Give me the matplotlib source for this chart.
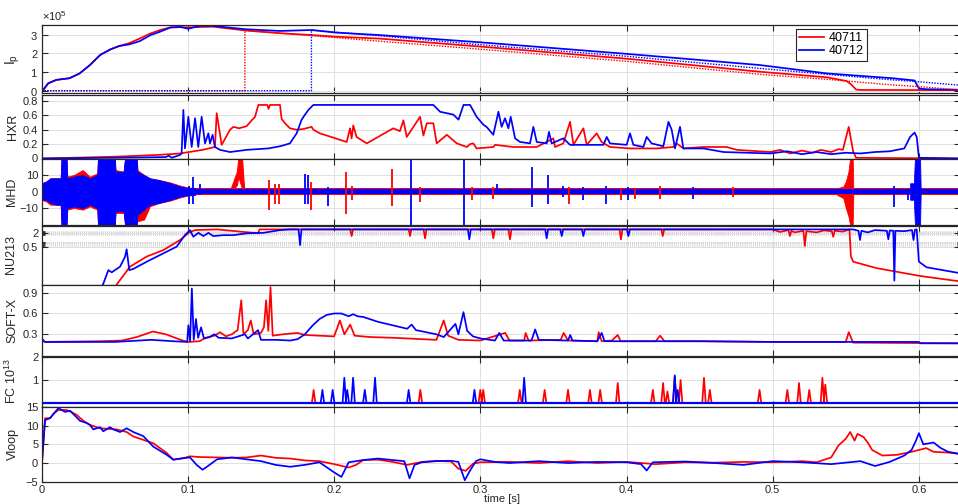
import numpy as np
import matplotlib
matplotlib.use('Agg')
import matplotlib.pyplot as plt
from matplotlib.ticker import FixedLocator, NullFormatter, ScalarFormatter, FixedFormatter
from matplotlib.lines import Line2D

plt.rcParams['font.family'] = ['Liberation Sans', 'DejaVu Sans']
plt.rcParams['mathtext.fontset'] = 'custom'
plt.rcParams['mathtext.rm'] = 'Liberation Sans'
plt.rcParams['mathtext.it'] = 'Liberation Sans'

W, H = 958, 504
RED = (1, 0, 0)
BLUE = (0, 0, 1)
GRID = (0.88, 0.88, 0.88)
DARK = (0.15, 0.15, 0.15)
SHOTS = ['40711', '40712']

# ---------------- data ----------------
# Plasma current (x1e5 A)
ip_t_red = [0, 0.001, 0.0045, 0.010, 0.019, 0.026, 0.033, 0.040, 0.047, 0.053, 0.060, 0.067, 0.0745,
            0.081, 0.088, 0.095, 0.100, 0.108, 0.117, 0.140, 0.163, 0.1845, 0.2015, 0.231, 0.30, 0.40,
            0.491, 0.537, 0.5505, 0.5535, 0.557, 0.56, 0.627]
ip_red = [0, 0.04, 0.40, 0.58, 0.67, 0.93, 1.38, 1.92, 2.22, 2.40, 2.56, 2.80, 3.08,
          3.26, 3.40, 3.42, 3.40, 3.42, 3.44, 3.23, 3.09, 2.99, 2.90, 2.80, 2.37, 1.72,
          1.02, 0.72, 0.52, 0.35, 0.06, 0.04, 0.03]
ip_t_blue = [0, 0.001, 0.0045, 0.010, 0.019, 0.026, 0.033, 0.040, 0.047, 0.053, 0.060, 0.067, 0.0745,
             0.081, 0.088, 0.095, 0.100, 0.108, 0.117, 0.140, 0.163, 0.1845, 0.2015, 0.231, 0.30, 0.40,
             0.491, 0.537, 0.582, 0.597, 0.600, 0.605, 0.627]
ip_blue = [0, 0.04, 0.40, 0.58, 0.67, 0.93, 1.38, 1.92, 2.22, 2.40, 2.49, 2.66, 2.99,
           3.17, 3.40, 3.42, 3.33, 3.48, 3.48, 3.30, 3.21, 3.26, 3.12, 2.99, 2.60, 1.98,
           1.38, 0.93, 0.67, 0.55, 0.12, 0.08, 0.05]
ipfit_t_red = [0, 0.139, 0.139, 0.2, 0.231, 0.3, 0.4, 0.491, 0.537, 0.582, 0.6, 0.627]
ipfit_red = [0, 0, 3.24, 2.86, 2.66, 2.23, 1.58, 0.88, 0.61, 0.31, 0.22, 0.05]
ipfit_t_blue = [0, 0.1845, 0.1845, 0.231, 0.3, 0.4, 0.491, 0.537, 0.582, 0.6, 0.627]
ipfit_blue = [0, 0, 3.26, 2.95, 2.47, 1.85, 1.20, 0.88, 0.58, 0.48, 0.30]

# Hard X-ray
hxr_t_red = [0, 0.02, 0.05, 0.08, 0.0946, 0.110, 0.1185, 0.1197, 0.1231, 0.1288, 0.1311, 0.1350, 0.1402,
             0.1436, 0.1459, 0.1482, 0.1543, 0.1552, 0.1561, 0.1630, 0.1641, 0.1664, 0.1698, 0.1744,
             0.1790, 0.1846, 0.1858, 0.1903, 0.2086, 0.2109, 0.2120, 0.2131, 0.2154, 0.2223, 0.2405,
             0.2450, 0.2474, 0.2497, 0.2588, 0.2611, 0.2634, 0.2679, 0.2702, 0.2771, 0.2839, 0.2908,
             0.2930, 0.2952, 0.2975, 0.3089, 0.3101, 0.3226, 0.3386, 0.3500, 0.3511, 0.3568, 0.3614,
             0.3637, 0.3705, 0.3728, 0.3796, 0.3830, 0.3887, 0.4024, 0.4207, 0.4321, 0.4343, 0.4389,
             0.4526, 0.4686, 0.4755, 0.4983, 0.505, 0.512, 0.52, 0.527, 0.533, 0.54, 0.545, 0.548,
             0.552, 0.555, 0.557, 0.627]
hxr_red = [0, 0.01, 0.025, 0.05, 0.07, 0.12, 0.16, 0.63, 0.19, 0.40, 0.44, 0.42, 0.45,
           0.53, 0.58, 0.745, 0.745, 0.69, 0.745, 0.745, 0.55, 0.49, 0.42, 0.40,
           0.41, 0.44, 0.40, 0.35, 0.23, 0.42, 0.28, 0.46, 0.30, 0.21, 0.42,
           0.38, 0.53, 0.30, 0.58, 0.32, 0.49, 0.49, 0.21, 0.33, 0.21, 0.16,
           0.20, 0.21, 0.14, 0.16, 0.19, 0.16, 0.16, 0.28, 0.16, 0.21, 0.51,
           0.19, 0.42, 0.19, 0.35, 0.23, 0.16, 0.14, 0.14, 0.16, 0.21, 0.14,
           0.16, 0.16, 0.12, 0.09, 0.12, 0.07, 0.11, 0.08, 0.12, 0.09, 0.13, 0.12,
           0.44, 0.10, 0.01, 0.0]
hxr_t_blue = [0, 0.05, 0.085, 0.087, 0.089, 0.0946, 0.0957, 0.0969, 0.0980, 0.1003, 0.1026, 0.1049,
              0.1071, 0.1094, 0.1117, 0.1140, 0.1151, 0.1169, 0.1185, 0.1220, 0.1288, 0.1402, 0.1550,
              0.1630, 0.1698, 0.1744, 0.1778, 0.1801, 0.1824, 0.1858, 0.2679, 0.2725, 0.2816, 0.2851,
              0.2885, 0.2930, 0.2975, 0.3021, 0.3043, 0.3089, 0.3124, 0.3146, 0.3169, 0.3192, 0.3208,
              0.3238, 0.3272, 0.3340, 0.3363, 0.3386, 0.3454, 0.3470, 0.3488, 0.3568, 0.3614, 0.3842,
              0.3865, 0.3887, 0.4001, 0.4024, 0.4047, 0.4115, 0.4138, 0.4172, 0.4252, 0.4287, 0.4309,
              0.4332, 0.4366, 0.4389, 0.4526, 0.4664, 0.4983, 0.51, 0.52, 0.53, 0.54, 0.55, 0.56,
              0.57, 0.58, 0.59, 0.594, 0.597, 0.5985, 0.600, 0.627]
hxr_blue = [0, 0.01, 0.02, 0.04, 0.01, 0.05, 0.07, 0.675, 0.14, 0.58, 0.16, 0.56,
            0.16, 0.58, 0.21, 0.35, 0.21, 0.33, 0.16, 0.12, 0.09, 0.12, 0.14,
            0.17, 0.21, 0.35, 0.54, 0.61, 0.675, 0.745, 0.745, 0.65, 0.61, 0.54,
            0.745, 0.745, 0.58, 0.47, 0.44, 0.33, 0.65, 0.44, 0.56, 0.42, 0.58,
            0.28, 0.23, 0.21, 0.44, 0.23, 0.21, 0.37, 0.21, 0.28, 0.19, 0.19,
            0.30, 0.21, 0.19, 0.35, 0.19, 0.16, 0.30, 0.21, 0.17, 0.51, 0.40,
            0.14, 0.44, 0.14, 0.14, 0.09, 0.07, 0.10, 0.06, 0.09, 0.06, 0.08, 0.07,
            0.09, 0.10, 0.14, 0.30, 0.36, 0.30, 0.01, 0.0]

# MHD: envelope of the early burst, baseline band, and isolated spikes
mhd_burst_t = [0, 0.003, 0.006, 0.010, 0.013, 0.0135, 0.017, 0.0175, 0.022, 0.028, 0.033, 0.038, 0.0385,
               0.050, 0.0505, 0.056, 0.057, 0.065, 0.0655, 0.070, 0.074, 0.080, 0.088, 0.095, 0.100, 0.105]
mhd_burst_red_up = [5, 6, 8, 8, 8, 20, 20, 9, 10, 13, 9, 11, 20, 20, 13, 12, 20, 20, 13, 10, 8, 7, 5.5, 3.5, 2.5, 2]
mhd_burst_red_lo = [-5, -6, -8, -8, -8, -20, -20, -11, -10, -11, -9, -11, -20, -20, -13, -13, -20, -20, -18, -17, -9, -7, -5.5, -3.5, -2.5, -2]
mhd_burst_blue_up = [5, 6, 8, 8, 8, 20, 20, 8, 9, 10, 8, 10, 20, 20, 12, 12, 20, 20, 12, 10, 8, 7, 5, 3, 2, 2]
mhd_burst_blue_lo = [-5, -5, -7, -8, -8, -20, -20, -10, -9, -10, -8, -10, -20, -20, -12, -12, -20, -20, -14, -11, -8, -7, -5, -3, -2, -2]
mhd_band = 2.0
mhd_bump_t = [0.129, 0.1335, 0.1345, 0.1370, 0.1385]
mhd_bump_up = [1, 12, 20, 20, 1]
mhd_bump_lo = [-1, 4, 9, 2, -1]
mhd_disr_red_t = [0.544, 0.5483, 0.550, 0.5518, 0.5529, 0.5547, 0.5552]
mhd_disr_red_up = [2, 3, 6, 12, 20, 20, 0]
mhd_disr_red_lo = [-2, -4, -10, -15, -20, -20, 0]
mhd_disr_blue_t = [0.594, 0.5965, 0.5973, 0.6008, 0.6012]
mhd_disr_blue_up = [5, 5, 20, 20, 2]
mhd_disr_blue_lo = [-5, -5, -20, -20, -2]
mhd_spk_red_t = [0.1557, 0.1595, 0.1623, 0.1842, 0.2079, 0.2120, 0.2399, 0.2588, 0.2946, 0.3089, 0.3607,
                 0.3962, 0.4058, 0.4229, 0.4731]
mhd_spk_red_lo = [-11.5, -7.5, -7.5, -11.5, -13.5, -5.4, -8.5, -6.5, -5.4, -4.4, -7.5, -5.4, -4.4, -4.4, -3.4]
mhd_spk_red_hi = [6.7, 4.6, 4.6, 5.7, 11.7, 3.6, 13.7, 2.6, 2.6, 2.6, 2.6, 2.0, 1.5, 3.6, 2.6]
mhd_spk_blue_t = [0.1010, 0.1037, 0.1083, 0.1801, 0.1819, 0.1956, 0.2524, 0.2889, 0.3116, 0.3356, 0.3466,
                  0.3568, 0.3700, 0.3860, 0.4013, 0.4457, 0.5832, 0.5927]
mhd_spk_blue_lo = [-7.5, -7.5, -2.4, -7.5, -7.5, -8.5, -20, -20, -0.4, -9.5, -7.5, -3.4, -5.4, -7.5, -5.4, -4.4, -9.5, -5.4]
mhd_spk_blue_hi = [3.6, 8.7, 4.6, 10.7, 9.7, 2.6, 20, 20, 4.6, 14.8, 9.7, 3.6, 2.6, 3.6, 2.6, 2.6, 3.6, 1.5]

# NU213 (log scale)
nu_t_red = [0.049, 0.0513, 0.0604, 0.0718, 0.0832, 0.0946, 0.1014, 0.105, 0.12, 0.1481, 0.1490, 0.2110,
            0.2120, 0.2130, 0.2510, 0.2519, 0.2528, 0.2612, 0.2622, 0.2632, 0.3079, 0.3089, 0.3099,
            0.3193, 0.3203, 0.3213, 0.3952, 0.3962, 0.3972, 0.4238, 0.4248, 0.4258, 0.50, 0.505,
            0.5108, 0.5118, 0.5128, 0.515, 0.5210, 0.5220, 0.5230, 0.53, 0.535, 0.5404, 0.5414,
            0.5424, 0.548, 0.5525, 0.5535, 0.5551, 0.5711, 0.6008, 0.627]
nu_red = [0.005, 0.0099, 0.063, 0.18, 0.35, 1.0, 2.3, 2.8, 3.0, 2.0, 3.0, 3.0,
          1.51, 3.0, 3.0, 1.51, 3.0, 3.0, 1.19, 3.0, 3.0, 1.19, 3.0,
          3.0, 1.07, 3.0, 3.0, 1.07, 3.0, 3.0, 1.51, 3.0, 3.0, 2.3,
          2.8, 1.5, 2.6, 2.2, 2.6, 0.54, 2.5, 2.2, 2.7, 2.5, 1.4,
          2.6, 2.4, 3.0, 0.18, 0.105, 0.054, 0.024, 0.014]
nu_t_blue = [0.040, 0.0421, 0.0456, 0.0479, 0.0536, 0.0570, 0.0581, 0.0599, 0.0627, 0.0718, 0.0832,
             0.0923, 0.0980, 0.1014, 0.1037, 0.1072, 0.1106, 0.1140, 0.1174, 0.1242, 0.1310, 0.1402,
             0.1516, 0.1630, 0.1698, 0.1757, 0.1767, 0.1777, 0.2915, 0.2925, 0.2935, 0.3444, 0.3454,
             0.3464, 0.3547, 0.3557, 0.3567, 0.3695, 0.3705, 0.3715, 0.4003, 0.4013, 0.4023, 0.555,
             0.5587, 0.5597, 0.5607, 0.565, 0.570, 0.5781, 0.5791, 0.5801, 0.5825, 0.5832, 0.5839,
             0.590, 0.5953, 0.5963, 0.5973, 0.5985, 0.6000, 0.6053, 0.627]
nu_blue = [0.005, 0.0106, 0.044, 0.035, 0.063, 0.177, 0.38, 0.044, 0.05, 0.105, 0.25,
           0.5, 1.67, 2.8, 1.4, 2.1, 1.5, 2.1, 1.5, 1.65, 1.65, 2.0,
           2.1, 2.8, 3.0, 3.0, 0.59, 3.0, 3.0, 1.07, 3.0, 3.0, 1.19,
           3.0, 3.0, 1.5, 3.0, 3.0, 1.5, 3.0, 3.0, 1.5, 3.0, 3.0,
           2.6, 1.0, 2.6, 2.2, 2.8, 2.6, 1.07, 2.7, 2.6, 0.0148, 2.6,
           2.5, 2.8, 1.0, 2.9, 3.0, 0.105, 0.059, 0.033]

# Soft X-ray
sx_t_red = [0, 0.002, 0.04, 0.055, 0.065, 0.076, 0.085, 0.095, 0.100, 0.108, 0.112, 0.118, 0.122, 0.126,
            0.130, 0.134, 0.1365, 0.138, 0.141, 0.143, 0.145, 0.150, 0.152, 0.1535, 0.155, 0.1565, 0.158,
            0.165, 0.175, 0.18, 0.20, 0.204, 0.207, 0.211, 0.214, 0.225, 0.240, 0.26, 0.270, 0.275,
            0.278, 0.285, 0.30, 0.317, 0.32, 0.33, 0.331, 0.333, 0.355, 0.357, 0.36, 0.38, 0.381,
            0.383, 0.39, 0.394, 0.396, 0.42, 0.423, 0.426, 0.45, 0.5, 0.55, 0.552, 0.555, 0.627]
sx_red = [0.24, 0.19, 0.20, 0.21, 0.26, 0.34, 0.30, 0.22, 0.19, 0.20, 0.25, 0.28, 0.33, 0.27,
          0.30, 0.36, 0.79, 0.30, 0.36, 0.50, 0.30, 0.32, 0.40, 0.79, 0.35, 0.98, 0.28,
          0.30, 0.32, 0.29, 0.27, 0.50, 0.30, 0.44, 0.28, 0.26, 0.25, 0.23, 0.22, 0.50,
          0.28, 0.22, 0.21, 0.32, 0.21, 0.21, 0.32, 0.21, 0.22, 0.32, 0.21, 0.20, 0.33,
          0.20, 0.21, 0.29, 0.20, 0.20, 0.28, 0.20, 0.20, 0.19, 0.19, 0.33, 0.18, 0.17]
sx_t_blue = [0, 0.002, 0.05, 0.075, 0.09, 0.0995, 0.1003, 0.1015, 0.1027, 0.104, 0.1055, 0.107, 0.109,
             0.111, 0.115, 0.118, 0.121, 0.13, 0.139, 0.141, 0.148, 0.150, 0.16, 0.17, 0.175, 0.18,
             0.185, 0.19, 0.195, 0.20, 0.205, 0.21, 0.213, 0.216, 0.22, 0.23, 0.24, 0.25, 0.253,
             0.256, 0.27, 0.275, 0.283, 0.285, 0.2885, 0.291, 0.295, 0.30, 0.31, 0.313, 0.316,
             0.335, 0.3375, 0.34, 0.36, 0.3615, 0.363, 0.38, 0.383, 0.385, 0.40, 0.45, 0.5, 0.6,
             0.601, 0.627]
sx_blue = [0.24, 0.19, 0.19, 0.22, 0.20, 0.19, 0.43, 0.20, 0.96, 0.22, 0.52, 0.25, 0.40,
           0.24, 0.26, 0.30, 0.25, 0.24, 0.30, 0.24, 0.36, 0.22, 0.22, 0.21, 0.23, 0.30,
           0.42, 0.52, 0.58, 0.60, 0.60, 0.56, 0.59, 0.56, 0.55, 0.48, 0.43, 0.38, 0.44,
           0.36, 0.30, 0.26, 0.45, 0.30, 0.62, 0.35, 0.27, 0.24, 0.21, 0.32, 0.21,
           0.21, 0.37, 0.22, 0.21, 0.29, 0.21, 0.20, 0.32, 0.20, 0.20, 0.20, 0.19, 0.19,
           0.17, 0.17]

# FC (x1e13): isolated peaks
fc_red_t = [0.186, 0.259, 0.300, 0.302, 0.327, 0.344, 0.360, 0.375, 0.382, 0.394, 0.418, 0.425, 0.428,
            0.433, 0.437, 0.453, 0.457, 0.491, 0.510, 0.518, 0.525, 0.534, 0.536]
fc_red_h = [0.57, 0.57, 0.57, 0.57, 0.57, 0.57, 0.57, 0.57, 0.57, 0.87, 0.57, 0.87, 0.5,
            1.17, 1.0, 1.1, 0.57, 0.57, 0.57, 0.87, 0.57, 1.1, 0.8]
fc_blue_t = [0.192, 0.199, 0.207, 0.209, 0.213, 0.221, 0.228, 0.251, 0.296, 0.330, 0.433, 0.435]
fc_blue_h = [0.57, 0.57, 1.1, 0.57, 1.1, 0.57, 1.1, 0.57, 0.57, 1.1, 1.2, 0.57]

# Loop voltage
vl_t_red = [0.0004, 0.0023, 0.0057, 0.008, 0.0114, 0.0171, 0.0205, 0.0239, 0.0285, 0.033, 0.0399, 0.0513,
            0.0581, 0.0627, 0.0695, 0.0763, 0.0855, 0.09, 0.0969, 0.1014, 0.108, 0.12, 0.13, 0.14, 0.15,
            0.16, 0.17, 0.18, 0.19, 0.20, 0.21, 0.215, 0.22, 0.23, 0.24, 0.25, 0.26, 0.27, 0.28, 0.285,
            0.29, 0.295, 0.30, 0.32, 0.34, 0.36, 0.38, 0.40, 0.42, 0.44, 0.46, 0.48, 0.50, 0.52, 0.53,
            0.54, 0.545, 0.550, 0.553, 0.556, 0.558, 0.562, 0.565, 0.568, 0.575, 0.585, 0.595, 0.605,
            0.61, 0.62, 0.627]
vl_red = [0.9, 12, 12, 13.2, 14.2, 14.2, 13.6, 12.9, 11.3, 10.2, 9.3, 9.0,
          8.3, 7.1, 6.2, 5.3, 2.7, 0.9, 1.3, 1.8, 1.6, 1.5, 1.4, 1.5, 2.0,
          1.4, 1.2, 0.7, 0.5, -0.3, -1.2, -0.5, 0.8, 0.9, 0.3, -0.5, 0.3, 0.6, 0.4, -1.5,
          -2.1, -0.2, 0.2, 0.3, 0.0, 0.5, 0.0, 0.3, -0.3, 0.2, 0.1, 0.3, 0.2, 0.5, 0.2,
          1.5, 4.7, 6.5, 8.3, 6.0, 7.8, 7.0, 5.5, 3.5, 2.0, 2.2, 3.0, 4.0,
          3.0, 2.8, 2.5]
vl_t_blue = [0.0004, 0.0023, 0.0057, 0.0114, 0.016, 0.0194, 0.0262, 0.0308, 0.033, 0.0353, 0.0399, 0.0421,
             0.0467, 0.049, 0.0536, 0.0581, 0.0627, 0.0695, 0.0763, 0.0855, 0.09, 0.0969, 0.1014, 0.106,
             0.11, 0.113, 0.12, 0.13, 0.14, 0.15, 0.16, 0.17, 0.18, 0.19, 0.20, 0.205, 0.21, 0.22, 0.23,
             0.24, 0.248, 0.2516, 0.255, 0.26, 0.27, 0.28, 0.285, 0.2894, 0.293, 0.297, 0.30, 0.31,
             0.32, 0.34, 0.36, 0.38, 0.40, 0.41, 0.4138, 0.418, 0.44, 0.46, 0.48, 0.50, 0.52, 0.54,
             0.56, 0.57, 0.58, 0.59, 0.595, 0.598, 0.600, 0.603, 0.61, 0.615, 0.62, 0.627]
vl_blue = [1.5, 11.5, 12, 14.7, 13.7, 14.0, 11.3, 10.7, 10.2, 9.0, 9.6, 8.5,
           9.6, 9.0, 8.3, 9.3, 8.3, 7.2, 4.4, 2.2, 0.9, 1.3, 1.5, -0.5,
           -1.8, -1.0, 1.0, 1.5, 1.0, 0.5, -0.5, -1.0, -0.5, 0.2, -2.5, -3.7, 0.2, 0.8, 1.2,
           0.8, 0.5, -4.1, -0.5, 0.2, 0.5, 0.6, 0.3, -4.6, -2.0, 0.5, 1.0, 0.3,
           0.0, 0.5, 0.0, 0.3, 0.2, -0.3, -2.0, 0.2, 0.4, 0.0, -0.5, 0.5, 0.2, -0.3,
           0.5, -0.8, 0.3, 2.0, 3.5, 6.0, 8.0, 5.0, 5.5, 4.0, 3.0, 2.5]

# ---------------- layout ----------------
fig = plt.figure(figsize=(W / 100, H / 100), dpi=100)
XMAX = (960 - 41.7) / 1462.0
panels = [(25, 93.3), (94.5, 158.5), (158.5, 224.5), (225.5, 284.5), (285, 356), (357, 406.5), (407, 481.7)]
LW = 1.25
TFS = 8


def make_ax(top, bot):
    ax = fig.add_axes([41.7 / W, 1 - bot / H, (960 - 41.7) / W, (bot - top) / H])
    ax.set_xlim(0, XMAX)
    ax.set_xticks([0, 0.1, 0.2, 0.3, 0.4, 0.5, 0.6])
    ax.grid(True, color=GRID, linewidth=0.7)
    ax.set_axisbelow(True)
    ax.tick_params(direction='in', top=True, right=True, length=4.5, width=0.8,
                   colors=DARK, labelsize=TFS, pad=2.5)
    ax.tick_params(axis='x', labelbottom=False)
    for s in ax.spines.values():
        s.set_color(DARK)
        s.set_linewidth(0.9)
    return ax


axs = [make_ax(t, b) for t, b in panels]
ax_ip, ax_hxr, ax_mhd, ax_nu, ax_sx, ax_fc, ax_vl = axs

# Ip
ax_ip.plot(ip_t_red, np.array(ip_red) * 1e5, color=RED, lw=LW)
ax_ip.plot(ip_t_blue, np.array(ip_blue) * 1e5, color=BLUE, lw=LW)
ax_ip.plot(ipfit_t_red, np.array(ipfit_red) * 1e5, color=RED, lw=1.0, ls=(0, (1, 1)))
ax_ip.plot(ipfit_t_blue, np.array(ipfit_blue) * 1e5, color=BLUE, lw=1.0, ls=(0, (1, 1)))
ax_ip.set_ylim(-0.14e5, 3.53e5)
ax_ip.set_yticks([0, 1e5, 2e5, 3e5])
fmt = ScalarFormatter(useMathText=True)
fmt.set_powerlimits((0, 0))
ax_ip.yaxis.set_major_formatter(fmt)
ax_ip.yaxis.get_offset_text().set_fontsize(TFS)
ax_ip.yaxis.get_offset_text().set_color(DARK)
ax_ip.set_ylabel(r'I$_\mathrm{p}$', fontsize=10, color=DARK, labelpad=6)
leg = ax_ip.legend([Line2D([], [], color=RED, lw=LW), Line2D([], [], color=BLUE, lw=LW)], SHOTS,
                   loc='upper left', bbox_to_anchor=(796 / W, 1 - 29 / H), bbox_transform=fig.transFigure,
                   fontsize=9, frameon=True, fancybox=False, framealpha=1, edgecolor=DARK,
                   borderpad=0.25, handlelength=2.0, handletextpad=0.4, labelspacing=0.1, borderaxespad=0)
leg.get_frame().set_linewidth(0.8)

# HXR
ax_hxr.plot(hxr_t_red, hxr_red, color=RED, lw=LW)
ax_hxr.plot(hxr_t_blue, hxr_blue, color=BLUE, lw=LW)
ax_hxr.set_ylim(0, 0.89)
ax_hxr.set_yticks([0, 0.2, 0.4, 0.6, 0.8])
ax_hxr.set_yticklabels(['0', '0.2', '0.4', '0.6', '0.8'])
ax_hxr.set_ylabel('HXR', fontsize=9, color=DARK, labelpad=3)

# MHD
ax_mhd.fill_between(mhd_burst_t, mhd_burst_red_lo, mhd_burst_red_up, color=RED, lw=0.6)
ax_mhd.fill_between([0.1, XMAX], [-mhd_band] * 2, [mhd_band] * 2, color=RED, lw=0)
ax_mhd.fill_between(mhd_bump_t, mhd_bump_lo, mhd_bump_up, color=RED, lw=0.8)
ax_mhd.fill_between(mhd_disr_red_t, mhd_disr_red_lo, mhd_disr_red_up, color=RED, lw=0.6)
ax_mhd.vlines(mhd_spk_red_t, mhd_spk_red_lo, mhd_spk_red_hi, color=RED, lw=1.3)
ax_mhd.fill_between(mhd_burst_t, mhd_burst_blue_lo, mhd_burst_blue_up, color=BLUE, lw=0.6)
ax_mhd.fill_between([0.1, XMAX], [-mhd_band * 0.9] * 2, [mhd_band * 0.9] * 2, color=BLUE, lw=0)
ax_mhd.fill_between(mhd_disr_blue_t, mhd_disr_blue_lo, mhd_disr_blue_up, color=BLUE, lw=0.6)
ax_mhd.vlines(mhd_spk_blue_t, mhd_spk_blue_lo, mhd_spk_blue_hi, color=BLUE, lw=1.3)
ax_mhd.set_ylim(-20, 20)
ax_mhd.set_yticks([-10, 0, 10])
ax_mhd.set_ylabel('MHD', fontsize=9, color=DARK, labelpad=1)

# NU213
ax_nu.plot(nu_t_red, nu_red, color=RED, lw=LW)
ax_nu.plot(nu_t_blue, nu_blue, color=BLUE, lw=LW)
ax_nu.set_yscale('log')
ax_nu.set_ylim(0.0099, 4.5)
ax_nu.yaxis.set_major_locator(FixedLocator([0.5, 2]))
ax_nu.yaxis.set_major_formatter(FixedFormatter(['0.5', '2']))
ax_nu.yaxis.set_minor_locator(FixedLocator([0.55, 0.6, 0.65, 0.7, 0.75, 0.8, 0.85, 1.7, 1.8, 1.9, 2.2, 2.4, 2.6]))
ax_nu.yaxis.set_minor_formatter(NullFormatter())
ax_nu.grid(True, which='minor', axis='y', color=(0.8, 0.8, 0.8), linewidth=0.6, linestyle=(0, (1, 1.5)))
ax_nu.tick_params(which='minor', direction='in', length=2.5, colors=DARK, right=True)
ax_nu.set_ylabel('NU213', fontsize=9, color=DARK, labelpad=4)

# SOFT-X
ax_sx.plot(sx_t_red, sx_red, color=RED, lw=LW)
ax_sx.plot(sx_t_blue, sx_blue, color=BLUE, lw=LW)
ax_sx.set_ylim(-0.013, 1.011)
ax_sx.set_yticks([0.3, 0.6, 0.9])
ax_sx.set_ylabel('SOFT-X', fontsize=9, color=DARK, labelpad=3)

# FC
def peaks(ts, hs, half=0.0012):
    x = np.column_stack([np.array(ts) - half, ts, np.array(ts) + half]).ravel()
    y = np.column_stack([np.zeros(len(hs)), hs, np.zeros(len(hs))]).ravel()
    return np.concatenate([[0], x, [XMAX]]), np.concatenate([[0], y, [0]])

xr, yr = peaks(fc_red_t, fc_red_h)
xb, yb = peaks(fc_blue_t, fc_blue_h)
ax_fc.plot(xr, yr, color=RED, lw=LW)
ax_fc.plot(xb, yb, color=BLUE, lw=LW)
ax_fc.plot([0, XMAX], [0, 0], color=BLUE, lw=1.6)
ax_fc.set_ylim(-0.152, 2.0)
ax_fc.set_yticks([1, 2])
ax_fc.set_ylabel(r'FC 10$^{13}$', fontsize=9, color=DARK, labelpad=9)

# Vloop
ax_vl.plot(vl_t_red, vl_red, color=RED, lw=LW)
ax_vl.plot(vl_t_blue, vl_blue, color=BLUE, lw=LW)
ax_vl.set_ylim(-5, 15)
ax_vl.set_yticks([-5, 0, 5, 10, 15])
ax_vl.set_ylabel('Vloop', fontsize=9, color=DARK, labelpad=5)
ax_vl.tick_params(axis='x', labelbottom=True)
ax_vl.set_xticklabels(['0', '0.1', '0.2', '0.3', '0.4', '0.5', '0.6'])

fig.text(502 / W, 1 - 503.5 / H, 'time [s]', ha='center', va='bottom', fontsize=8, color=DARK)

fig.savefig('out.png', dpi=100)
